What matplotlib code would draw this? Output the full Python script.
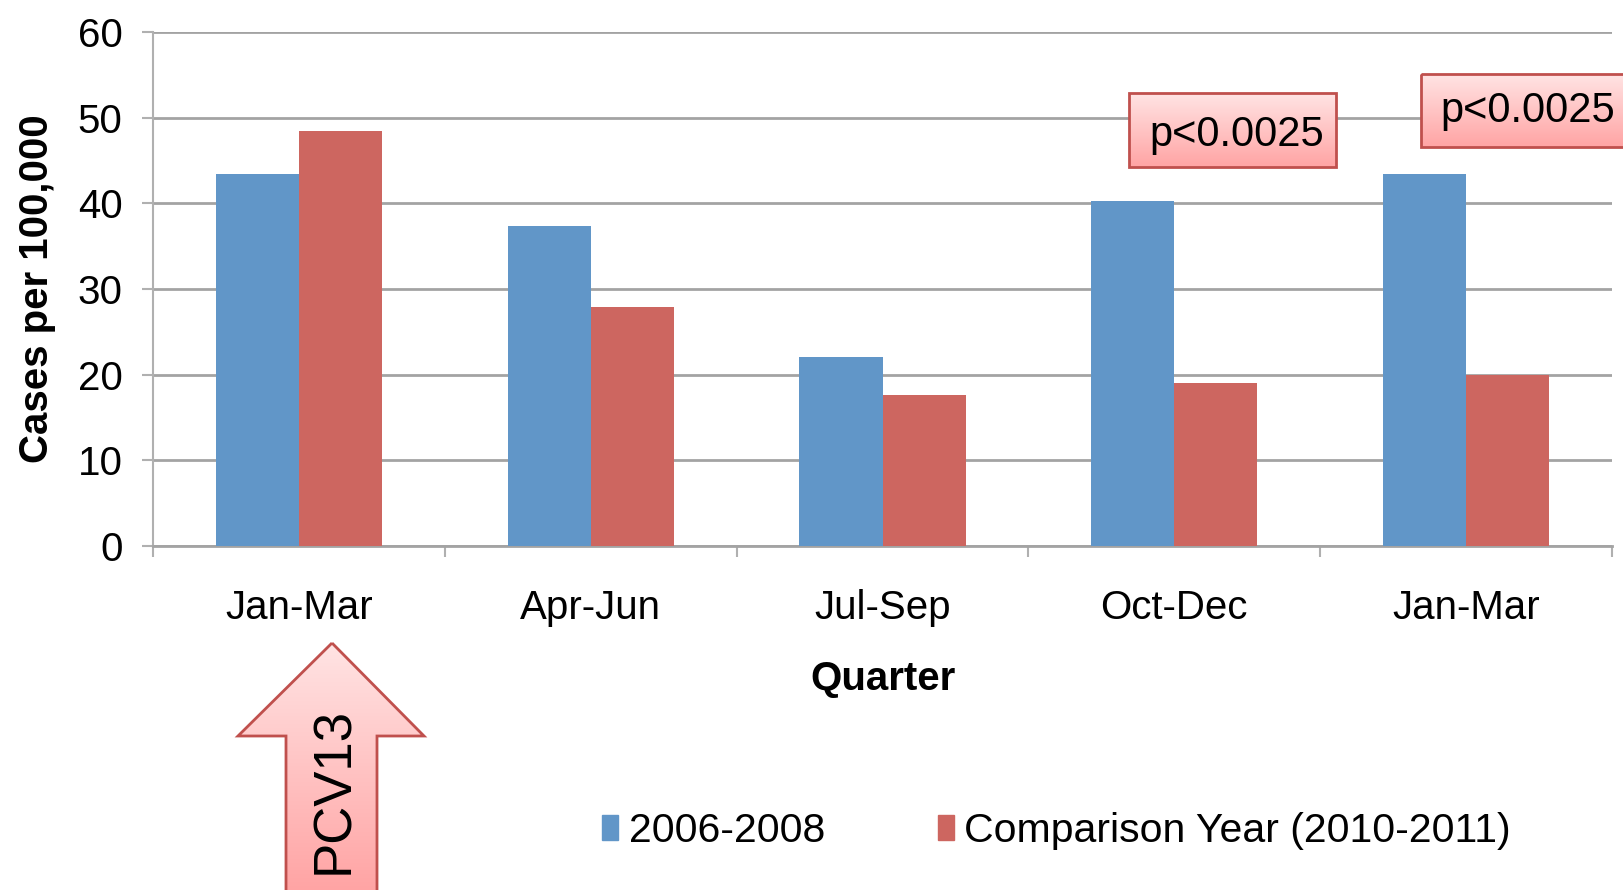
import numpy as np
import matplotlib
matplotlib.use("Agg")
import matplotlib.pyplot as plt
from matplotlib.colors import LinearSegmentedColormap
from matplotlib.patches import Polygon, Rectangle, Patch

plt.rcParams['font.family'] = ['Liberation Sans', 'DejaVu Sans']

# Quarterly case rates per 100,000
quarters = ["Jan-Mar", "Apr-Jun", "Jul-Sep", "Oct-Dec", "Jan-Mar"]
baseline = [43.4, 37.3, 22.1, 40.3, 43.4]
comparison = [48.4, 27.9, 17.6, 19.0, 20.0]
series_names = ["2006-2008", "Comparison Year (2010-2011)"]
p_label = "p<0.0025"
arrow_label = "PCV13"

BLUE = "#6196c8"
RED = "#cd6660"
GRID = "#a3a3a3"
EDGE = "#c0504d"

W, H = 1623, 890
fig = plt.figure(figsize=(W / 100, H / 100), dpi=100)
ax = fig.add_axes([153 / W, 1 - 546 / H, (1612 - 153) / W, (546 - 32) / H])

x = np.arange(len(quarters))
bw = 0.285
ax.bar(x - bw / 2, baseline, bw, color=BLUE, zorder=3, label=series_names[0])
ax.bar(x + bw / 2, comparison, bw, color=RED, zorder=3, label=series_names[1])

ax.set_xlim(-0.5, len(quarters) - 0.5)
ax.set_ylim(0, 60)
ax.set_yticks(range(0, 61, 10))
ax.yaxis.grid(True, color=GRID, linewidth=2, zorder=0)
ax.tick_params(axis='y', labelsize=29, length=8, width=1.5, color="#b0b0b0",
               pad=14)

# group boundaries carry the tick marks, centers carry the labels
ax.set_xticks(np.arange(-0.5, len(quarters), 1.0))
ax.set_xticklabels([])
ax.tick_params(axis='x', which='major', length=8, width=1.5, color="#b0b0b0")
ax.set_xticks(x, minor=True)
ax.set_xticklabels(quarters, minor=True)
ax.tick_params(axis='x', which='minor', length=0, labelsize=29, pad=31)

for side in ["top", "right"]:
    ax.spines[side].set_visible(False)
ax.spines["left"].set_color("#b0b0b0")
ax.spines["left"].set_linewidth(1.5)
ax.spines["bottom"].set_color(GRID)
ax.spines["bottom"].set_linewidth(2)

ax.set_ylabel("Cases per 100,000", fontsize=29, fontweight="bold")
ax.yaxis.set_label_coords(-0.0665, 0.5)
ax.set_xlabel("Quarter", fontsize=29, fontweight="bold")
ax.xaxis.set_label_coords(0.5, -0.221)

fig.legend(handles=[Patch(color=BLUE, label=series_names[0]),
                    Patch(color=RED, label=series_names[1])],
           loc="center left", bbox_to_anchor=(602 / W, 1 - 831 / H),
           ncol=2, frameon=False, fontsize=29.5, handlelength=0.4,
           handleheight=0.55, handletextpad=0.25, columnspacing=2.75,
           borderpad=0, borderaxespad=0)

# overlay in pixel coordinates for the callouts
ov = fig.add_axes([0, 0, 1, 1], zorder=5)
ov.set_xlim(0, W)
ov.set_ylim(H, 0)
ov.axis("off")
pink = LinearSegmentedColormap.from_list("pink", ["#ffe4e4", "#ffa4a4"])
grad = np.linspace(0, 1, 256).reshape(-1, 1)


def shaded(patch, x0, x1, y0, y1):
    ov.add_patch(patch)
    im = ov.imshow(grad, cmap=pink, extent=(x0, x1, y1, y0), aspect="auto",
                   zorder=patch.get_zorder() - 0.1)
    im.set_clip_path(patch)
    return im


def p_box(x0, y0, x1, y1, tx, ty):
    r = Rectangle((x0, y0), x1 - x0, y1 - y0, facecolor="none",
                  edgecolor=EDGE, linewidth=2, zorder=6)
    shaded(r, x0, x1, y0, y1)
    ov.text(tx, ty, p_label, fontsize=30, ha="left", va="center", zorder=7)


p_box(1129, 93, 1336, 167, 1149, 135)
p_box(1421, 74, 1640, 147, 1440, 111)

arrow_pts = [(332, 643), (424, 736), (377, 736), (377, 900),
             (286, 900), (286, 736), (238, 736)]
arr = Polygon(arrow_pts, closed=True, facecolor="none", edgecolor=EDGE,
              linewidth=2, zorder=6)
shaded(arr, 238, 424, 643, 890)
ov.text(334, 790, arrow_label, fontsize=38, rotation=90, ha="center",
        va="center", zorder=7)
ov.set_xlim(0, W)
ov.set_ylim(H, 0)

fig.savefig("out.png", dpi=100)
